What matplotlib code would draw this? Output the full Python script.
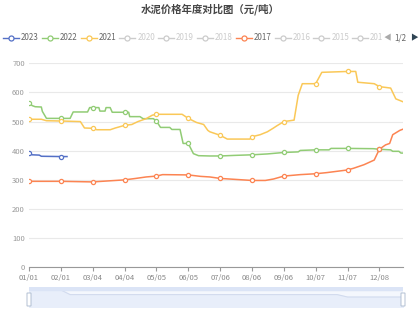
import numpy as np
import matplotlib
matplotlib.use("Agg")
import matplotlib.pyplot as plt
from matplotlib.lines import Line2D
from matplotlib.patches import Rectangle, FancyBboxPatch

plt.rcParams['font.family'] = ['Noto Sans CJK SC', 'DejaVu Sans']

# --- data (day index from 01/01) ---
tick_days = [0, 31, 62, 93, 124, 155, 186, 217, 248, 279, 310, 341]
tick_labels = ["01/01", "02/01", "03/04", "04/04", "05/05", "06/05",
               "07/06", "08/06", "09/06", "10/07", "11/07", "12/08"]

x_2023 = [0, 3, 10, 12, 31, 37]
y_2023 = [391, 386, 385, 381, 380, 380]

x_2022 = [0, 3, 6, 12, 13, 17, 31, 40, 43, 57, 59, 62, 68, 69, 74, 75, 79, 81,
          93, 97, 98, 108, 111, 121, 124, 128, 137, 139, 147, 150, 155, 160, 165,
          176, 186, 200, 217, 232, 248, 262, 264, 279, 292, 294, 310, 335, 341,
          352, 354, 360, 362, 364]
y_2022 = [565, 555, 551, 550, 535, 511, 511, 511, 533, 533, 548, 548, 548, 536, 536, 548, 548, 532,
          532, 532, 517, 517, 510, 510, 502, 480, 480, 473, 473, 425, 425, 390, 383,
          382, 382, 384, 386, 389, 394, 396, 401, 403, 403, 408, 408, 407, 405,
          403, 398, 398, 392, 392]

x_2021 = [0, 12, 17, 31, 50, 54, 62, 66, 79, 84, 93, 100, 106, 114, 120, 124,
          149, 155, 163, 170, 174, 176, 186, 193, 215, 217, 225, 232, 238, 241,
          248, 258, 262, 266, 279, 285, 310, 318, 320, 336, 341, 352, 357, 364]
y_2021 = [508, 508, 503, 502, 500, 478, 477, 472, 472, 478, 487, 490, 500, 510, 522, 525,
          525, 511, 497, 490, 470, 465, 453, 440, 440, 448, 455, 465, 478, 485,
          500, 505, 590, 630, 630, 669, 672, 672, 635, 630, 620, 615, 578, 568]

x_2017 = [0, 31, 62, 93, 104, 114, 124, 130, 155, 167, 176, 186, 217, 230, 238,
          248, 264, 279, 290, 310, 316, 326, 336, 341, 347, 351, 354, 361, 364]
y_2017 = [295, 295, 293, 300, 305, 310, 313, 318, 317, 312, 310, 305, 298, 298, 303,
          313, 318, 321, 325, 334, 340, 352, 368, 405, 420, 425, 455, 470, 474]

legend_years = ["2023", "2022", "2021", "2020", "2019", "2018", "2017", "2016", "2015", "201"]
legend_colors = ["#5470c6", "#91cc75", "#fac858", "#cccccc", "#cccccc", "#cccccc",
                 "#fc8452", "#cccccc", "#cccccc", "#cccccc"]

# slider shadow (data zoom preview)
shadow_x = [0, 31, 40, 300, 310, 364]
shadow_y = [0.85, 0.85, 0.62, 0.62, 0.5, 0.5]

# --- figure ---
fig = plt.figure(figsize=(4.2, 3.15), dpi=100)
W, H = 420, 315

ax = fig.add_axes([29 / W, 1 - 267.3 / H, 374 / W, 204 / H])

series = [(x_2023, y_2023, "#5470c6"), (x_2022, y_2022, "#91cc75"),
          (x_2021, y_2021, "#fac858"), (x_2017, y_2017, "#fc8452")]
for xs, ys, c in series:
    xs = np.array(xs)
    ys = np.array(ys)
    ax.plot(xs, ys, color=c, lw=1.1, zorder=3)
    m = np.isin(xs, tick_days)
    ax.plot(xs[m], ys[m], 'o', ms=3.0, mfc='white', mec=c, mew=0.9, zorder=4)

ax.set_xlim(0, 364)
ax.set_ylim(0, 700)
ax.set_yticks(range(0, 701, 100))
ax.set_xticks(tick_days)
ax.set_xticklabels(tick_labels)
ax.grid(axis='y', color='#e9e9e9', lw=0.8)
ax.set_axisbelow(True)
for s in ['top', 'right', 'left']:
    ax.spines[s].set_visible(False)
ax.spines['bottom'].set_color('#999999')
ax.spines['bottom'].set_linewidth(0.8)
ax.tick_params(axis='y', length=0, labelsize=5.5, labelcolor='#999999', pad=3)
ax.tick_params(axis='x', length=3, color='#999999', labelsize=5.5,
               labelcolor='#888888', pad=1.5)

# title
fig.text(0.5, 1 - 9 / H, "水泥价格年度对比图（元/吨）", ha='center', va='center',
         fontsize=7.5, fontweight='bold', color='#464646')

# legend (manual, paged like the original)
ly = 1 - 38 / H
for i, (name, c) in enumerate(zip(legend_years, legend_colors)):
    cx = 11 + i * 38.8
    fig.add_artist(Line2D([(cx - 8) / W, (cx + 8) / W], [ly, ly], color=c, lw=1.0,
                          transform=fig.transFigure))
    fig.add_artist(Line2D([cx / W], [ly], marker='o', ms=3.6, mfc='white', mec=c,
                          mew=0.9, transform=fig.transFigure))
    tc = '#666666' if c != '#cccccc' else '#cccccc'
    fig.text((cx + 10) / W, ly, name, ha='left', va='center', fontsize=5.8, color=tc)
fig.text(387 / W, ly, "◀", ha='center', va='center', fontsize=5.5, color='#aaaaaa')
fig.text(400 / W, ly, "1/2", ha='center', va='center', fontsize=5.8, color='#666666')
fig.text(414 / W, ly, "▶", ha='center', va='center', fontsize=5.5, color='#2f4554')

# data zoom slider
sax = fig.add_axes([29 / W, 1 - 307 / H, 374 / W, 20 / H])
sax.set_xlim(0, 364)
sax.set_ylim(0, 1)
sax.fill_between(shadow_x, 0, shadow_y, color='#e8eefa', zorder=1)
sax.plot(shadow_x, shadow_y, color='#d2dbee', lw=0.8, zorder=2)
sax.add_patch(Rectangle((0, 0), 364, 0.85, color='#eef2fc', alpha=0.6, zorder=0))
sax.add_patch(Rectangle((0, 0.85), 364, 0.15, color='#dbe4f6', zorder=3))
sax.axis('off')
for hx in [0, 364]:
    fig.add_artist(FancyBboxPatch(((29 + hx * 374 / 364) / W - 2 / W, 1 - 306 / H), 4 / W, 13 / H,
                                  boxstyle='round,pad=0', fc='white', ec='#a7b7cc', lw=0.6,
                                  transform=fig.transFigure))

fig.savefig("out.png", dpi=100)
